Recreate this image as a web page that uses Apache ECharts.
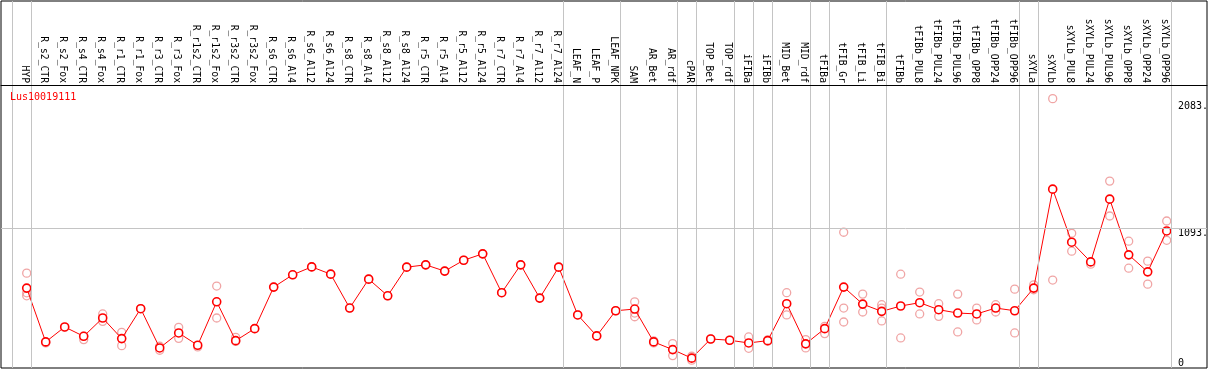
<!DOCTYPE html>
<html>
<head>
<meta charset="utf-8">
<script src="https://cdn.jsdelivr.net/npm/echarts@6/dist/echarts.min.js"></script>
<style>
  html, body { margin: 0; padding: 0; background: #fff; }
  #chart { width: 1209px; height: 370px; }
</style>
</head>
<body>
<div id="chart"></div>
<script>
// sample names, left to right
const categories = [
  'HYP', 'R_s2_CTR', 'R_s2_Fox', 'R_s4_CTR', 'R_s4_Fox', 'R_r1_CTR', 'R_r1_Fox',
  'R_r3_CTR', 'R_r3_Fox', 'R_r1s2_CTR', 'R_r1s2_Fox', 'R_r3s2_CTR', 'R_r3s2_Fox',
  'R_s6_CTR', 'R_s6_Al4', 'R_s6_Al12', 'R_s6_Al24', 'R_s8_CTR', 'R_s8_Al4',
  'R_s8_Al12', 'R_s8_Al24', 'R_r5_CTR', 'R_r5_Al4', 'R_r5_Al12', 'R_r5_Al24',
  'R_r7_CTR', 'R_r7_Al4', 'R_r7_Al12', 'R_r7_Al24', 'LEAF_N', 'LEAF_P', 'LEAF_NPK',
  'SAM', 'AR_Bet', 'AR_rdf', 'cPAR', 'TOP_Bet', 'TOP_rdf', 'iFIBa', 'iFIBb',
  'MID_Bet', 'MID_rdf', 'tFIBa', 'tFIB_Gr', 'tFIB_Li', 'tFIB_Bi', 'tFIBb',
  'tFIBb_PUL8', 'tFIBb_PUL24', 'tFIBb_PUL96', 'tFIBb_OPP8', 'tFIBb_OPP24', 'tFIBb_OPP96',
  'sXYLa', 'sXYLb', 'sXYLb_PUL8', 'sXYLb_PUL24', 'sXYLb_PUL96', 'sXYLb_OPP8',
  'sXYLb_OPP24', 'sXYLb_OPP96'
];

// mean expression per sample
const means = [
  625, 204, 321, 248, 391, 230, 464, 157, 274, 178, 518, 214, 308,
  633, 729, 791, 734, 469, 695, 565, 789, 807, 758, 843, 893,
  589, 807, 547, 789, 415, 251, 448,
  461, 204, 144, 77, 227, 217, 196, 214, 503, 189,
  308, 633, 500, 443, 485, 511, 456, 430, 423, 469, 448,
  625, 1399, 984, 830, 1321, 885, 752, 1072
];

// single replicates per sample
const replicates = [
  [742, 588, 565], [200, 196], [318], [222, 250], [423, 365], [279, 175], [464],
  [170, 139], [318, 232], [165], [641, 391], [240, 208], [308],
  [633], [729], [791], [734], [469], [695], [565], [789], [807], [758], [843], [893],
  [589], [807], [547], [789], [415], [251], [448],
  [518, 401, 430], [212, 196], [191, 97], [92, 61], [227], [217], [243, 154], [220, 210],
  [589, 415], [222, 157],
  [326, 269], [1062, 469, 360], [578, 438], [495, 469, 368], [734, 235], [594, 423],
  [503, 404], [578, 282], [469, 376], [495, 438], [617, 274],
  [651, 612], [2107, 688], [1054, 914], [812], [1462, 1189], [992, 781], [836, 656],
  [1150, 999]
];

// group separators sit after these sample indices
const groupEnds = [-1, 0, 28, 31, 34, 35, 37, 38, 39, 41, 42, 45, 52, 53, 60];

const yLabels = [1093, 2083];
const yMax = 2871;      // value at the top of the frame
const headerLine = 2214; // value where the label header ends

const font = 'DejaVu Sans Mono';

let repPoints = [];
replicates.forEach((list, i) => {
  list.forEach((v) => repPoints.push([i, v]));
});

let chart = echarts.init(document.getElementById('chart'));
chart.setOption({
  animation: false,
  title: {
    text: 'Lus10019111',
    left: 5,
    top: 87,
    textStyle: { color: '#ff0000', fontFamily: font, fontSize: 10, fontWeight: 'normal' }
  },
  grid: {
    left: 1, right: 2, top: 1, bottom: 2,
    show: true,
    borderColor: '#000',
    borderWidth: 1,
    outerBoundsMode: 'none'
  },
  xAxis: {
    type: 'value',
    position: 'top',
    offset: -84,
    min: -1.3526,
    max: 62.121,
    splitLine: { show: false },
    axisTick: { show: false },
    axisLine: { show: true, onZero: false, lineStyle: { color: '#000', width: 1 } },
    axisLabel: {
      rotate: 90,
      margin: 2,
      color: '#000',
      fontFamily: font,
      fontSize: 9.7,
      // labels sit a little left of the marks
      customValues: categories.map((c, i) => i - 0.12),
      formatter: (v) => categories[Math.round(v)]
    }
  },
  yAxis: [{
    type: 'value',
    position: 'right',
    min: 0,
    max: yMax,
    splitLine: { show: false },
    axisTick: { show: false },
    axisLine: { show: false },
    axisLabel: {
      inside: true,
      align: 'left',
      verticalAlign: 'top',
      margin: 29,
      color: '#000',
      fontFamily: font,
      fontSize: 10,
      customValues: yLabels,
      formatter: (v) => v + '.'
    }
  }, {
    type: 'value',
    position: 'right',
    min: 0,
    max: yMax,
    splitLine: { show: false },
    axisTick: { show: false },
    axisLine: { show: false },
    axisLabel: {
      inside: true,
      align: 'left',
      verticalAlign: 'bottom',
      margin: 29,
      color: '#000',
      fontFamily: font,
      fontSize: 10,
      customValues: [0],
      formatter: (v) => String(v)
    }
  }],
  series: [{
    name: 'lines',
    type: 'line',
    data: [],
    silent: true,
    markLine: {
      silent: true,
      symbol: 'none',
      animation: false,
      label: { show: false },
      lineStyle: { color: '#c4c4c4', width: 1, type: 'solid' },
      data: groupEnds.map((k) => ({ xAxis: k + 0.23 }))
        .concat([{ yAxis: yLabels[0] }])
    }
  }, {
    name: 'header',
    type: 'line',
    data: [],
    silent: true,
    markLine: {
      silent: true,
      symbol: 'none',
      animation: false,
      label: { show: false },
      lineStyle: { color: '#000', width: 1, type: 'solid' },
      data: [{ yAxis: headerLine }]
    }
  }, {
    name: 'replicates',
    type: 'scatter',
    data: repPoints,
    symbol: 'circle',
    symbolSize: 8,
    itemStyle: { color: 'rgba(0,0,0,0)', borderColor: '#ec8f8f', borderWidth: 1.3 }
  }, {
    name: 'mean',
    type: 'line',
    data: means.map((v, i) => [i, v]),
    symbol: 'circle',
    symbolSize: 8,
    showAllSymbol: true,
    lineStyle: { color: '#ff0000', width: 1 },
    itemStyle: { color: '#fff', borderColor: '#ff0000', borderWidth: 1.6 },
    z: 3
  }]
});
</script>
</body>
</html>
